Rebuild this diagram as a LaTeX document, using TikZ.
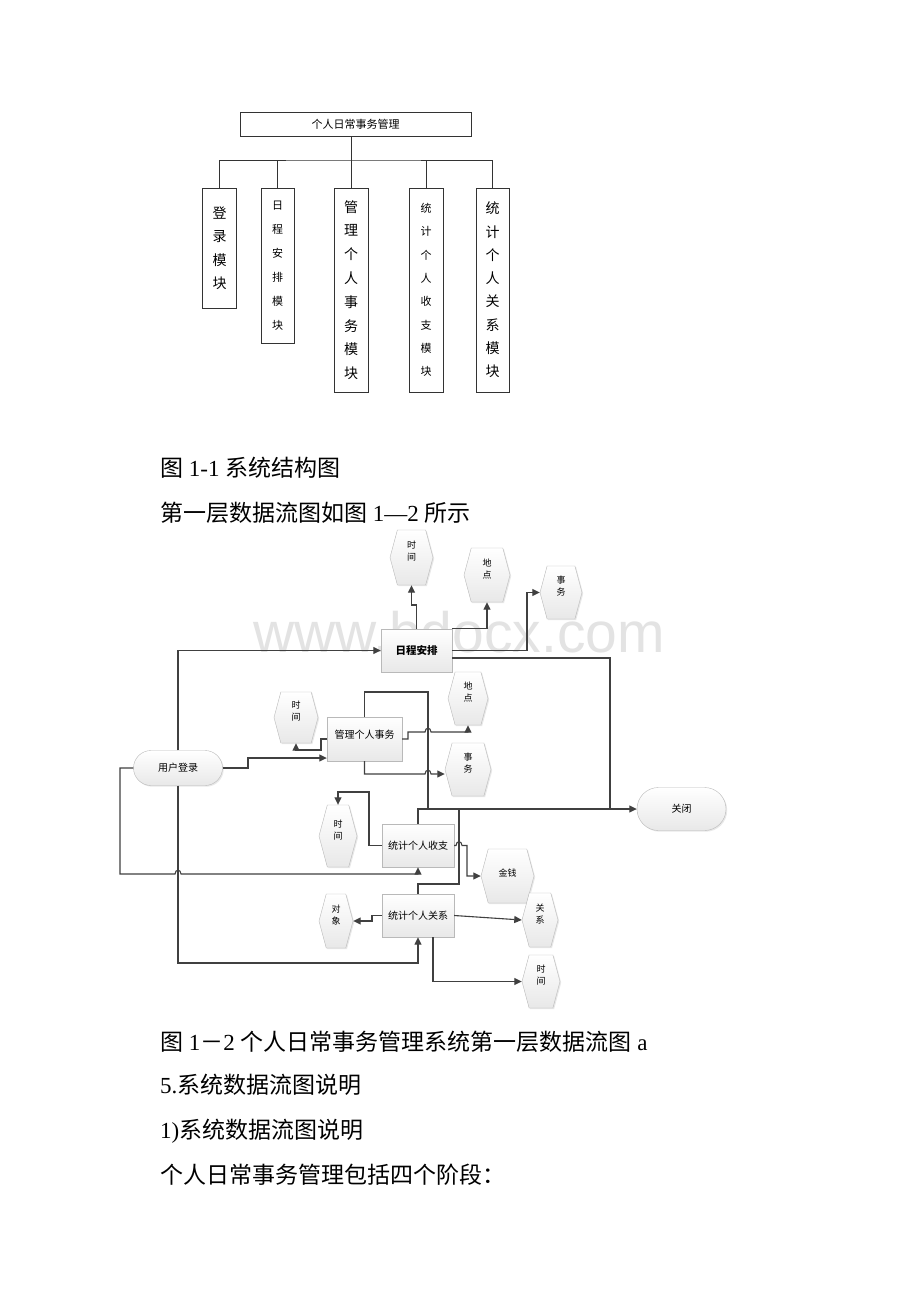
\documentclass[tikz,border=0pt]{standalone}
\usepackage{fontspec}
\setmainfont{Liberation Serif}
\newfontfamily\cjk{Noto Sans CJK SC}
\newfontfamily\wmfont{Liberation Sans}
\usetikzlibrary{arrows.meta,shapes.misc,shapes.symbols,shadows}

\begin{document}
\begin{tikzpicture}[x=1pt, y=-1pt,
    modbox/.style={draw=black!80, line width=0.8pt, fill=white, inner sep=0pt, align=center},
    chartline/.style={draw=black!80, line width=0.9pt},
    proc/.style={draw=gray!55, top color=white, bottom color=gray!18, inner sep=0pt,
      drop shadow={opacity=0.18, shadow xshift=1.2pt, shadow yshift=-1.2pt},
      font=\cjk\fontsize{10}{12}\selectfont},
    term/.style={proc, rounded rectangle},
    store/.style={proc, signal, signal to=west and east, signal pointer angle=150,
      align=center, text depth=13pt, font=\cjk\fontsize{9}{12}\selectfont},
    wire/.style={draw=black!75, line width=1.1pt},
    flow/.style={wire, -{Triangle[length=7.5pt, width=7pt]}},
    captext/.style={anchor=base west, inner sep=0pt, font=\fontsize{23}{27}\selectfont}]
  \fill[white] (0,0) rectangle (920,1302);
  \useasboundingbox (0,0) rectangle (920,1302);

  % structure chart
  \node[modbox, minimum width=231pt, minimum height=24pt, font=\cjk\fontsize{11}{13}\selectfont] (root) at (355.5,124) {个人日常事务管理};
  \node[modbox, minimum width=34pt, minimum height=120pt, font=\cjk\fontsize{14}{23.5}\selectfont] (m1) at (219.5,248) {登\\录\\模\\块};
  \node[modbox, minimum width=33pt, minimum height=155pt, font=\cjk\fontsize{11}{24}\selectfont] (m2) at (277.5,265.5) {日\\程\\安\\排\\模\\块};
  \node[modbox, minimum width=34pt, minimum height=204pt, font=\cjk\fontsize{14}{23.8}\selectfont] (m3) at (351,290) {管\\理\\个\\人\\事\\务\\模\\块};
  \node[modbox, minimum width=34pt, minimum height=204pt, font=\cjk\fontsize{11}{23.3}\selectfont] (m4) at (426,290) {统\\计\\个\\人\\收\\支\\模\\块};
  \node[modbox, minimum width=33pt, minimum height=204pt, font=\cjk\fontsize{14}{23.3}\selectfont] (m5) at (492.5,290) {统\\计\\个\\人\\关\\系\\模\\块};
  \coordinate (bus) at (351,160);
  \draw[chartline] (root.south -| bus) -- (bus);
  \draw[chartline] (m1.north) |- (bus) -| (m5.north);
  \foreach \m in {m2,m3,m4} \draw[chartline] (\m.north) -- (\m.north |- bus);

  \node[captext] (cap1) at (160,476) {{\cjk 图} 1-1 {\cjk 系统结构图}};
  \node[captext] (cap2) at (160,521) {{\cjk 第一层数据流图如图} 1—2 {\cjk 所示}};

  % data flow diagram
  \node[anchor=base, inner sep=0pt, text=gray!22, font=\wmfont\fontsize{57}{60}\selectfont] (wm) at (459,652) {www.bdocx.com};

  \node[term, minimum width=89pt, minimum height=35pt] (login) at (178,768) {用户登录};
  \node[term, minimum width=89pt, minimum height=43pt] (close) at (681.5,809) {关闭};
  \node[proc, minimum width=71pt, minimum height=43pt, font=\cjk\bfseries\fontsize{10.5}{12}\selectfont] (sched) at (416.5,650.5) {日程安排};
  \node[proc, minimum width=75pt, minimum height=44pt, text depth=9pt] (mgmt) at (364.5,739) {管理个人事务};
  \node[proc, minimum width=72pt, minimum height=43pt] (income) at (418,845.5) {统计个人收支};
  \node[proc, minimum width=72pt, minimum height=43pt] (rel) at (418,915.5) {统计个人关系};

  \node[store, minimum width=43pt, minimum height=55pt] (tsched) at (411.5,557.5) {时\\间};
  \node[store, minimum width=46pt, minimum height=54pt] (psched) at (487,575) {地\\点};
  \node[store, minimum width=42pt, minimum height=53pt] (esched) at (561,592.5) {事\\务};
  \node[store, minimum width=44pt, minimum height=51pt] (tmgmt) at (296,717.5) {时\\间};
  \node[store, minimum width=40pt, minimum height=53pt] (pmgmt) at (468,698.5) {地\\点};
  \node[store, minimum width=46pt, minimum height=53pt] (emgmt) at (468,769.5) {事\\务};
  \node[store, minimum width=38pt, minimum height=62pt] (tinc) at (338,836) {时\\间};
  \node[store, minimum width=53pt, minimum height=54pt, text depth=7pt] (money) at (507.5,876) {金钱};
  \node[store, minimum width=34pt, minimum height=54pt] (obj) at (336,921) {对\\象};
  \node[store, minimum width=36pt, minimum height=54pt] (hrel) at (540,920) {关\\系};
  \node[store, minimum width=38pt, minimum height=53pt] (trel) at (541,981.5) {时\\间};

  \coordinate (j1) at (428,809);
  \coordinate (j2) at (459,809);
  \coordinate (j3) at (610,809);

  % from login
  \draw[flow] (login.north) |- (sched.west);
  \draw[flow] (login.east) -- (248,768) -- (248,758) -- (mgmt.west |- 0,758);
  \draw[flow] (login.south) -- (178,963) -| (rel.south);
  \draw[flow] (login.west) -| (120,874) -- (175,874) .. controls (175,869) and (181,869) .. (181,874) -| (income.south);

  % from schedule
  \draw[flow] (sched.north) -- (416.5,605) -| (tsched.south);
  \draw[flow] (sched.north east) -| (psched.south);
  \draw[flow] (sched.east) -- (527,650.5) |- (esched.west);
  \draw[wire] (sched.east |- 0,658) -| (j3);

  % from affairs
  \draw[flow] (mgmt.west) -- (321,739) -- (321,750) -| (tmgmt.south);
  \draw[flow] (mgmt.east) -- (408,739) -- (408,732) -- (425,732) .. controls (425,727) and (431,727) .. (431,732) -| (pmgmt.south);
  \draw[flow] (mgmt.south) -- (364.5,774) -- (425,774) .. controls (425,769) and (431,769) .. (431,774) -- (emgmt.west |- 0,774);
  \draw[wire] (mgmt.north) |- (j1 |- 0,692) -- (j1);

  % from income
  \draw[flow] (income.north) |- (close.west);
  \draw[flow] (income.west) -| (369,792) -| (tinc.north);
  \draw[flow] (income.east) -- (456,845.5) .. controls (456,840.5) and (462,840.5) .. (462,845.5) -- (467,845.5) |- (money.west);

  % from relations
  \draw[wire] (rel.north) |- (j2 |- 0,884) -- (j2);
  \draw[flow] (rel.west) -- (372,915.5) |- (obj.east);
  \draw[flow] (rel.east) -- (hrel.west);
  \draw[flow] ([xshift=15pt]rel.south) |- (trel.west);

  \node[captext] (cap3) at (160,1050) {{\cjk 图} 1{\cjk －}2 {\cjk 个人日常事务管理系统第一层数据流图} a};
  \node[captext] (cap4) at (160,1093) {5.{\cjk 系统数据流图说明}};
  \node[captext] (cap5) at (160,1138) {1){\cjk 系统数据流图说明}};
  \node[captext] (cap6) at (160,1183) {\cjk 个人日常事务管理包括四个阶段：};
\end{tikzpicture}
\end{document}
